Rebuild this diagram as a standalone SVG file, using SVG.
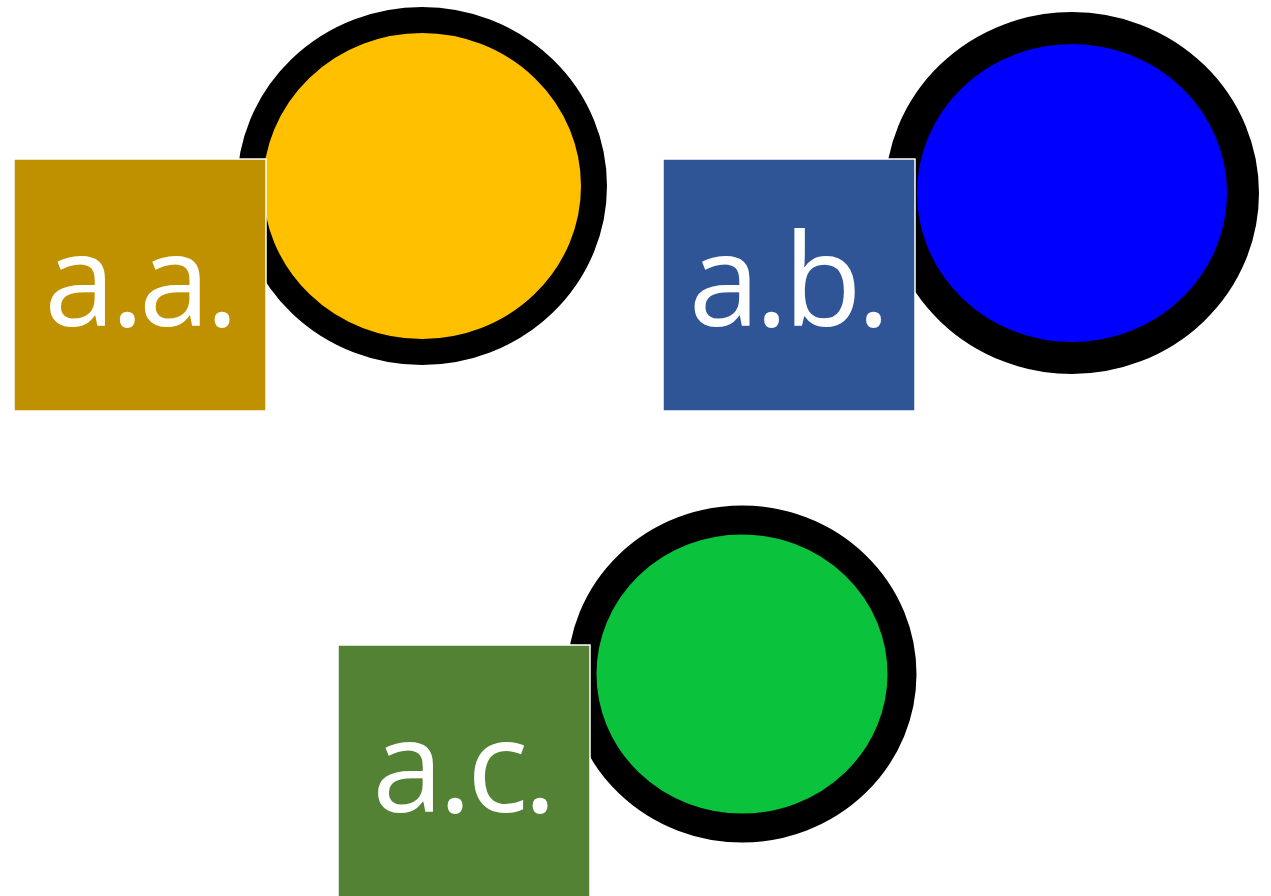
<svg xmlns="http://www.w3.org/2000/svg" width="1271" height="896" viewBox="0 0 1271 896">
<style>
.ring{stroke:#000;}
.box{stroke:#fff;stroke-width:1.5;}
.lbl{fill:#fff;font-family:"Open Sans","Noto Sans",sans-serif;font-size:128px;letter-spacing:-5px;text-anchor:middle;}
</style>
<rect width="1271" height="896" fill="#fff"/>
<g id="node-aa">
<ellipse class="ring" cx="422" cy="186" rx="172" ry="166" fill="#FFC000" stroke-width="26"/>
<rect class="box" x="14" y="159" width="252" height="252" fill="#BF9000"/>
<text class="lbl" x="139" y="326">a.a.</text>
</g>
<g id="node-ab">
<ellipse class="ring" cx="1072" cy="193" rx="171" ry="165" fill="#0000FF" stroke-width="32"/>
<rect class="box" x="663" y="159" width="252" height="252" fill="#2F5597"/>
<text class="lbl" x="787" y="326">a.b.</text>
</g>
<g id="node-ac">
<ellipse class="ring" cx="742" cy="674" rx="160" ry="154" fill="#0AC23C" stroke-width="29"/>
<rect class="box" x="338" y="645" width="252" height="260" fill="#548235"/>
<text class="lbl" x="462" y="812">a.c.</text>
</g>
<g id="connectors"/>
</svg>
